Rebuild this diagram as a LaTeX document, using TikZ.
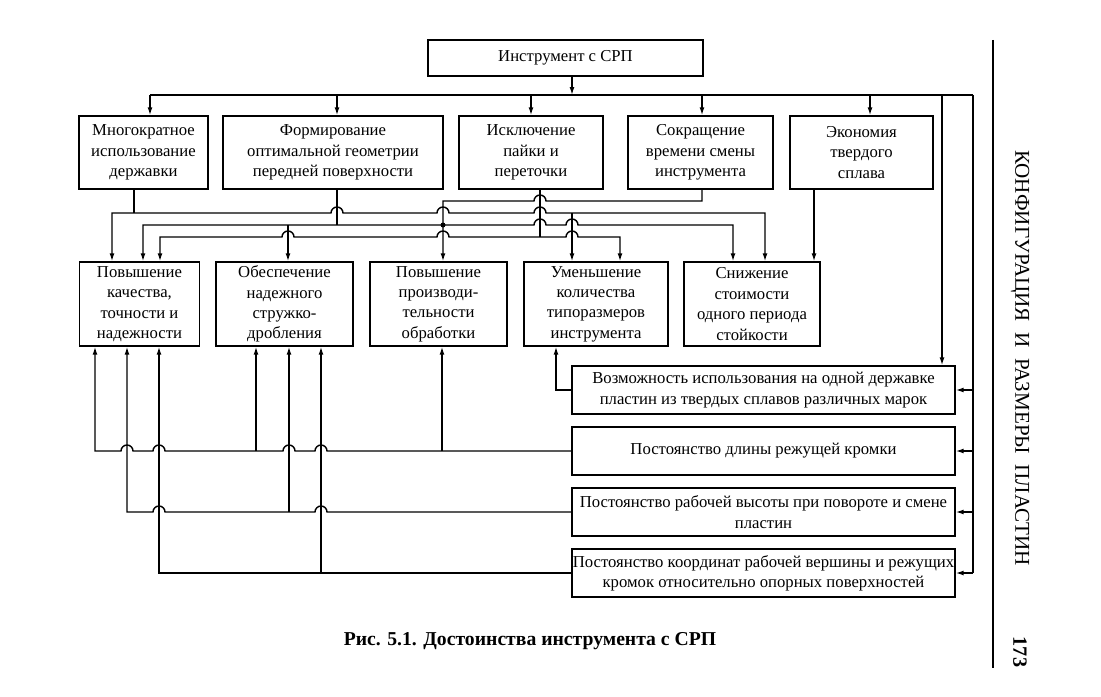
\documentclass[tikz,border=0pt]{standalone}
\usepackage{fontspec}
\setmainfont{Liberation Serif}
\usetikzlibrary{arrows.meta}

\tikzset{
  box/.style={draw, line width=0.8pt, align=center, inner sep=0pt,
    font=\fontsize{9.5}{11.6}\selectfont},
  link/.style={line width=0.8pt},
  >={Latex[length=4.5pt,width=2.8pt]},
}
% hop of a horizontal line (drawn to the right) over a vertical one at x=#1
\newcommand{\hop}[2]{-- ({#1-6},#2) arc[start angle=180,end angle=360,radius=6]}

\begin{document}
\begin{tikzpicture}[x=0.02cm,y=-0.02cm]
  \useasboundingbox (0,0) rectangle (1101,696);

  % boxes
  \node[box, minimum width=5.5cm, minimum height=0.72cm] (tool) at (565.5,58) {Инструмент с СРП};

  \node[box, minimum width=2.58cm, minimum height=1.46cm] (t1) at (143.5,152.5) {Многократное\\использование\\державки};
  \node[box, minimum width=4.4cm, minimum height=1.46cm] (t2) at (333,152.5) {Формирование\\оптимальной геометрии\\передней поверхности};
  \node[box, minimum width=2.88cm, minimum height=1.46cm] (t3) at (531,152.5) {Исключение\\пайки и\\переточки};
  \node[box, minimum width=2.9cm, minimum height=1.46cm] (t4) at (700.5,152.5) {Сокращение\\времени смены\\инструмента};
  \node[box, minimum width=2.86cm, minimum height=1.46cm] (t5) at (861.5,152.5) {Экономия\\твердого\\сплава};

  \node[box, minimum width=2.4cm, minimum height=1.68cm] (m1) at (139.5,304) {Повышение\\качества,\\точности и\\надежности};
  \node[box, minimum width=2.74cm, minimum height=1.68cm] (m2) at (284.5,304) {Обеспечение\\надежного\\стружко-\\дробления};
  \node[box, minimum width=2.74cm, minimum height=1.68cm] (m3) at (438.5,304) {Повышение\\производи-\\тельности\\обработки};
  \node[box, minimum width=2.88cm, minimum height=1.68cm] (m4) at (596,304) {Уменьшение\\количества\\типоразмеров\\инструмента};
  \node[box, minimum width=2.72cm, minimum height=1.68cm] (m5) at (752,304) {Снижение\\стоимости\\одного периода\\стойкости};

  \node[box, minimum width=7.66cm, minimum height=0.96cm] (r1) at (763.5,390) {Возможность использования на одной державке\\пластин из твердых сплавов различных марок};
  \node[box, minimum width=7.66cm, minimum height=0.96cm] (r2) at (763.5,451) {Постоянство длины режущей кромки};
  \node[box, minimum width=7.66cm, minimum height=0.96cm] (r3) at (763.5,512) {Постоянство рабочей высоты при повороте и смене\\пластин};
  \node[box, minimum width=7.66cm, minimum height=0.96cm] (r4) at (763.5,573) {Постоянство координат рабочей вершины и режущих\\кромок относительно опорных поверхностей};

  % upper bus
  \draw[link,->] (tool.south -| 572,0) -- (572,95);
  \draw[link] (150,95) -- (973,95);
  \foreach \x/\n in {150/t1, 337/t2, 531/t3, 702/t4, 870/t5}
    \draw[link,->] (\x,95) -- (\x,0 |- \n.north);
  \draw[link,->] (942,95) -- (942,0 |- r1.north);
  \draw[link] (973,95) -- (973,0 |- r4.east);
  \foreach \n in {r1,r2,r3,r4}
    \draw[link,->] (973,0 |- \n.east) -- (\n.east);

  % links between the two rows
  \draw[link,<-] (443,0 |- m3.north) -- (443,201) \hop{540}{201} -- (702,201) -- (702,0 |- t4.south);
  \draw[link,<->] (112,0 |- m1.north) -- (112,213) \hop{337}{213} \hop{443}{213} \hop{540}{213} -- (765,213) -- (765,0 |- m5.north);
  \draw[link] (134,0 |- t1.south) -- (134,213);
  \draw[link,->] (572,213) -- (572,0 |- m4.north);
  \draw[link,<->] (143,0 |- m1.north) -- (143,225) \hop{540}{225} \hop{572}{225} -- (733,225) -- (733,0 |- m5.north);
  \draw[link] (337,0 |- t2.south) -- (337,225);
  \draw[link,->] (288,225) -- (288,0 |- m2.north);
  \fill (443,225) circle[radius=2.5];
  \draw[link,<->] (160,0 |- m1.north) -- (160,237) \hop{288}{237} \hop{443}{237} \hop{572}{237} -- (620,237) -- (620,0 |- m4.north);
  \draw[link] (540,0 |- t3.south) -- (540,237);
  \draw[link,->] (814,0 |- t5.south) -- (814,0 |- m5.north);

  % links from the right boxes
  \draw[link,->] (r1.west) -- (556,0 |- r1.west) -- (556,0 |- m4.south);
  \draw[link,<-] (95,0 |- m1.south) -- (95,451) \hop{127}{451} \hop{159}{451} \hop{289}{451} \hop{321}{451} -- (r2.west);
  \draw[link,->] (256,451) -- (256,0 |- m2.south);
  \draw[link,->] (442,451) -- (442,0 |- m3.south);
  \draw[link,<-] (127,0 |- m1.south) -- (127,512) \hop{159}{512} \hop{321}{512} -- (r3.west);
  \draw[link,->] (289,512) -- (289,0 |- m2.south);
  \draw[link,<-] (159,0 |- m1.south) -- (159,573) -- (r4.west);
  \draw[link,->] (321,573) -- (321,0 |- m2.south);

  % page margin
  \draw[line width=1.2pt] (993,40) -- (993,668);
  \node[rotate=-90, font=\fontsize{12}{14}\selectfont] (runhead) at (1020,358) {КОНФИГУРАЦИЯ \ И \ РАЗМЕРЫ \ ПЛАСТИН};
  \node[rotate=-90, font=\fontsize{11.5}{14}\selectfont\bfseries] (page) at (1020,652) {173};
  \node[font=\fontsize{11.2}{14}\selectfont\bfseries] (caption) at (530,641) {Рис. 5.1. Достоинства инструмента с СРП};
\end{tikzpicture}
\end{document}
